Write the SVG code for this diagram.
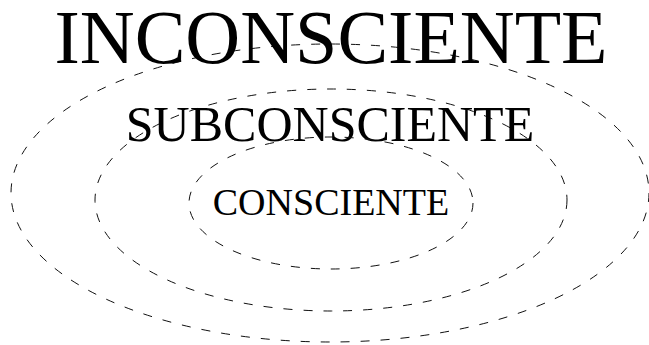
<svg xmlns="http://www.w3.org/2000/svg" width="649" height="345" viewBox="0 0 649 345">
<style>
.ring{fill:none;stroke:#111;stroke-width:1;stroke-dasharray:9 11}
.lbl{font-family:"Liberation Serif","Times New Roman",serif;fill:#000;text-anchor:middle}
</style>
<rect width="649" height="345" fill="#fff"/>
<g id="connectors"></g>
<g id="inconsciente">
<ellipse class="ring" cx="330" cy="193" rx="319" ry="149"/>
<text class="lbl" x="331" y="63" font-size="76">INCONSCIENTE</text>
</g>
<g id="subconsciente">
<ellipse class="ring" cx="331" cy="200" rx="236" ry="111"/>
<text class="lbl" x="330" y="141" font-size="50">SUBCONSCIENTE</text>
</g>
<g id="consciente">
<ellipse class="ring" cx="331" cy="203" rx="142" ry="66"/>
<text class="lbl" x="331" y="215" font-size="38">CONSCIENTE</text>
</g>
</svg>
